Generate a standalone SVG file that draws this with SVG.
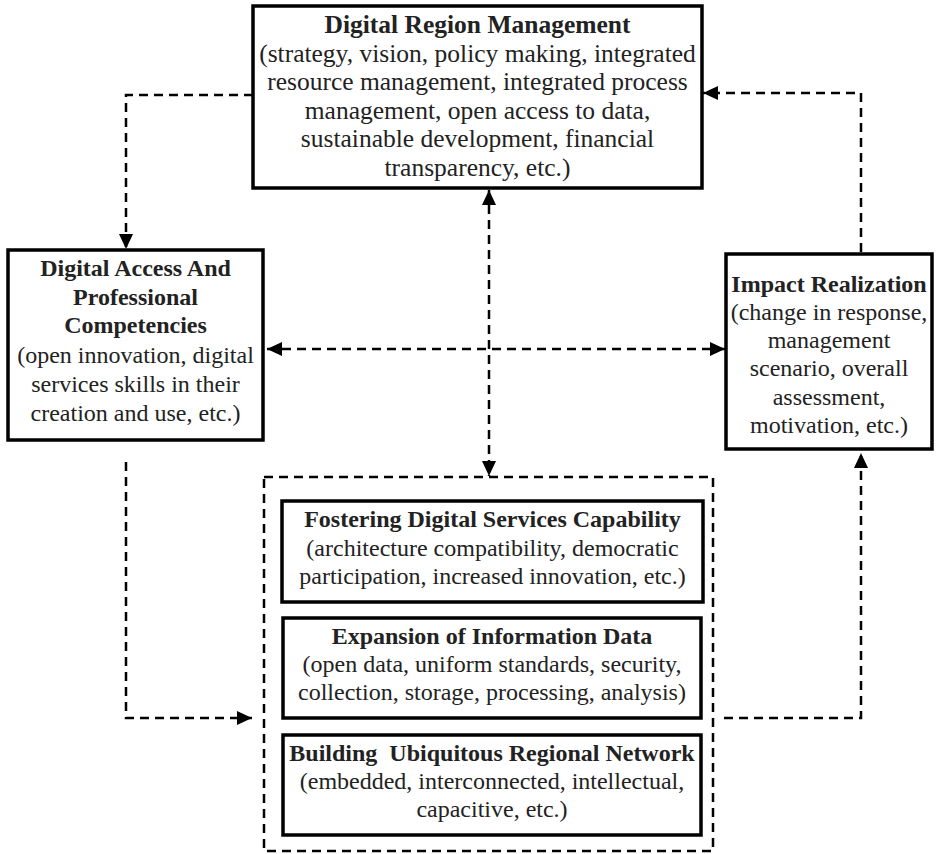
<svg xmlns="http://www.w3.org/2000/svg" width="940" height="854" viewBox="0 0 940 854">
<style>
.box{fill:#fff;stroke:#000;stroke-width:3.5}
.cont{fill:none;stroke:#000;stroke-width:2.5;stroke-dasharray:9 6}
.con{fill:none;stroke:#000;stroke-width:2.5;stroke-dasharray:9 6}
text{font-family:"Liberation Serif","Times New Roman",serif;font-size:24px;fill:#222;text-anchor:middle}
.b{font-weight:bold}
.lg{font-size:25.5px}
</style>
<defs>
<marker id="ah" markerUnits="userSpaceOnUse" markerWidth="16" markerHeight="14" refX="15" refY="7" orient="auto-start-reverse">
<path d="M0,0 L15,7 L0,14 z" fill="#000"/>
</marker>
</defs>
<g id="connectors">
<path class="con" d="M253,95 H126 V249" marker-end="url(#ah)"/>
<path class="con" d="M861,252 V93 H703" marker-end="url(#ah)"/>
<path class="con" d="M489,190 V476" marker-start="url(#ah)" marker-end="url(#ah)"/>
<path class="con" d="M267,349 H725" marker-start="url(#ah)" marker-end="url(#ah)"/>
<path class="con" d="M126,462 V718 H252" marker-end="url(#ah)"/>
<path class="con" d="M724,718 H861 V453" marker-end="url(#ah)"/>
</g>
<g id="node-top" class="lg">
<rect class="box" x="253" y="6" width="449" height="182"/>
<text x="477.5" y="33" class="b lg">Digital Region Management</text>
<text x="477.5" y="61.5" class="lg">(strategy, vision, policy making, integrated</text>
<text x="477.5" y="90" class="lg">resource management, integrated process</text>
<text x="477.5" y="118.5" class="lg">management, open access to data,</text>
<text x="477.5" y="147" class="lg">sustainable development, financial</text>
<text x="477.5" y="175.5" class="lg">transparency, etc.)</text>
</g>
<g id="node-left">
<rect class="box" x="8" y="250" width="255" height="190"/>
<text x="135.5" y="276" class="b">Digital Access And</text>
<text x="135.5" y="305" class="b">Professional</text>
<text x="135.5" y="333" class="b">Competencies</text>
<text x="135.5" y="363">(open innovation, digital</text>
<text x="135.5" y="392">services skills in their</text>
<text x="135.5" y="421">creation and use, etc.)</text>
</g>
<g id="node-right">
<rect class="box" x="726" y="254" width="206" height="195"/>
<text x="829" y="292" class="b">Impact Realization</text>
<text x="829" y="320">(change in response,</text>
<text x="829" y="348">management</text>
<text x="829" y="376">scenario, overall</text>
<text x="829" y="405">assessment,</text>
<text x="829" y="433">motivation, etc.)</text>
</g>
<g id="node-group">
<rect class="cont" x="264" y="477" width="449" height="374"/>
</g>
<g id="node-fostering">
<rect class="box" x="282" y="501" width="421" height="101"/>
<text x="492.5" y="527" class="b">Fostering Digital Services Capability</text>
<text x="492.5" y="556">(architecture compatibility, democratic</text>
<text x="492.5" y="584">participation, increased innovation, etc.)</text>
</g>
<g id="node-expansion">
<rect class="box" x="283" y="618" width="418" height="100"/>
<text x="492" y="644" class="b">Expansion of Information Data</text>
<text x="492" y="672">(open data, uniform standards, security,</text>
<text x="492" y="700">collection, storage, processing, analysis)</text>
</g>
<g id="node-building">
<rect class="box" x="283" y="735" width="418" height="100"/>
<text x="492" y="761" class="b">Building&#160; Ubiquitous Regional Network</text>
<text x="492" y="789">(embedded, interconnected, intellectual,</text>
<text x="492" y="817">capacitive, etc.)</text>
</g>
</svg>
